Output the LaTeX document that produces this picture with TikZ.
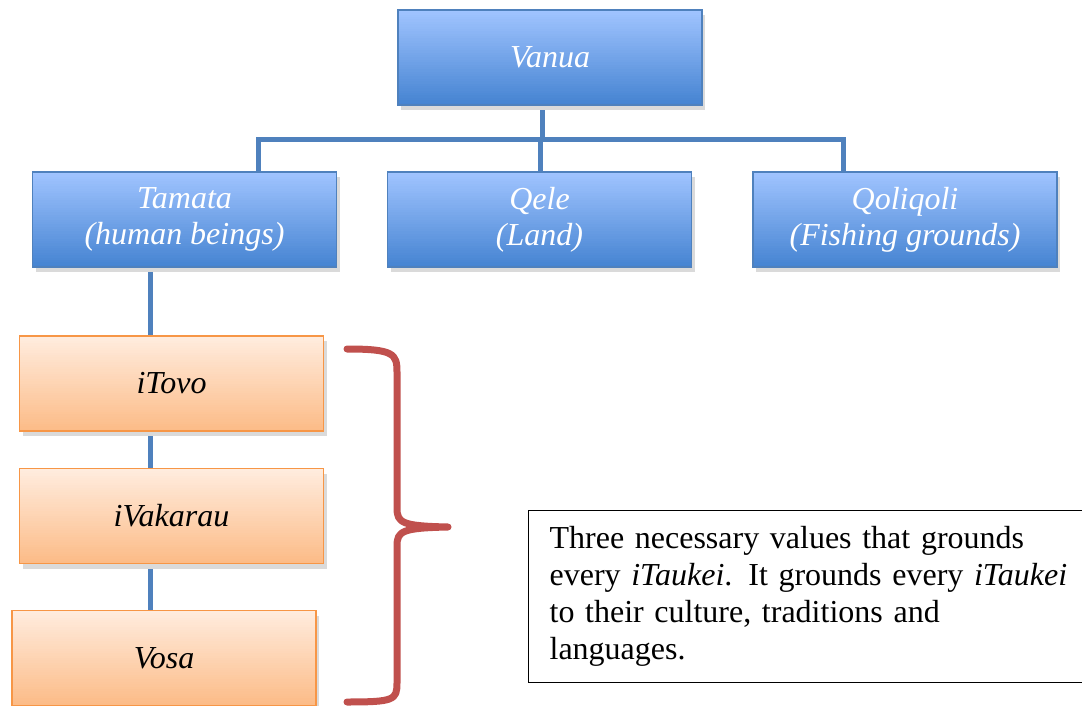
\documentclass[tikz,border=0pt]{standalone}
\usepackage{fontspec}
\setmainfont{Liberation Serif}
\usetikzlibrary{calc}

\definecolor{blueTop}{RGB}{160,196,255}
\definecolor{blueBot}{RGB}{70,132,210}
\definecolor{blueLine}{RGB}{79,129,189}
\definecolor{orTop}{RGB}{255,236,222}
\definecolor{orBot}{RGB}{252,188,136}
\definecolor{orLine}{RGB}{247,150,70}
\definecolor{braceRed}{RGB}{192,80,77}
\definecolor{shadowGray}{RGB}{218,218,218}

\tikzset{
  % vertical colour ramp built from thin bands
  ramp/.style 2 args={path picture={
    \foreach \k in {0,...,39}{
      \pgfmathsetmacro\pct{100-\k*100/39}
      \fill[color={#2!\pct!#1}]
        ($(path picture bounding box.north west)!\k/40!(path picture bounding box.south west)$)
        rectangle
        ($(path picture bounding box.north east)!{(\k+1.4)/40}!(path picture bounding box.south east)$);
    }}},
  box/.style={rectangle, minimum width=304pt, minimum height=95pt, inner sep=0pt,
    align=center, font=\fontsize{32}{36}\selectfont\itshape,
    preaction={fill=shadowGray, transform canvas={shift={(3pt,-5pt)}}}},
  bluebox/.style={box, ramp={blueBot}{blueTop}, draw=blueLine,
    line width=1.5pt, text=white},
  orangebox/.style={box, ramp={orBot}{orTop}, draw=orLine,
    line width=1.5pt, text=black},
  conn/.style={draw=blueLine, line width=5pt},
  brace/.style={draw=braceRed, line width=7pt, line cap=round, line join=round},
  note/.style={draw=black, line width=1.2pt, rectangle, anchor=north west,
    text width=520pt, minimum height=172pt, inner xsep=21pt, inner ysep=0pt,
    align=left, font=\fontsize{32}{37}\selectfont}
}

\begin{document}
\begin{tikzpicture}[x=1pt, y=-1pt]
\useasboundingbox (0,0) rectangle (1082,706);

% connectors, drawn first so the boxes cover their ends
\coordinate (bus) at (542,140);
\coordinate (vanuaStem) at (542,100);
\coordinate (tamataStem) at (258,176);
\coordinate (qeleStem) at (540,176);
\coordinate (qoliStem) at (843,176);
\coordinate (valueTop) at (150,262);
\coordinate (valueBottom) at (150,615);
\draw[conn] (vanuaStem) -- (bus);
\draw[conn] (tamataStem) |- (bus) -| (qoliStem);
\draw[conn] (qeleStem) -- (qeleStem |- bus);
\draw[conn] (valueTop) -- (valueBottom);

% top level and its three children
\node[bluebox] (vanua) at (550,57.5) {Vanua};
\node[bluebox] (tamata) at (184.5,219.5) {Tamata\\(human beings)};
\node[bluebox] (qele) at (539.5,219.5) {Qele\\(Land)};
\node[bluebox] (qoliqoli) at (905,219.5) {Qoliqoli\\(Fishing grounds)};

% the three values under Tamata
\node[orangebox] (itovo) at (171.5,383.5) {iTovo};
\node[orangebox] (ivakarau) at (171.5,516) {iVakarau};
\node[orangebox] (vosa) at (164,658) {Vosa};

% explanatory note
\node[note] (note) at (528,510) {Three necessary values that grounds\\
every \textit{iTaukei}. It grounds every \textit{iTaukei}\\
to their culture, traditions and\\
languages.};

% curly brace grouping the three values
\coordinate (tip) at (448,527);
\draw[brace] (347,349) .. controls (394,349) and (397,354) .. (397,372)
  -- (397,508) .. controls (397,523) and (402,526) .. (tip)
  .. controls (402,528) and (397,531) .. (397,546)
  -- (397,683) .. controls (397,700) and (394,702) .. (347,702);
\end{tikzpicture}
\end{document}
